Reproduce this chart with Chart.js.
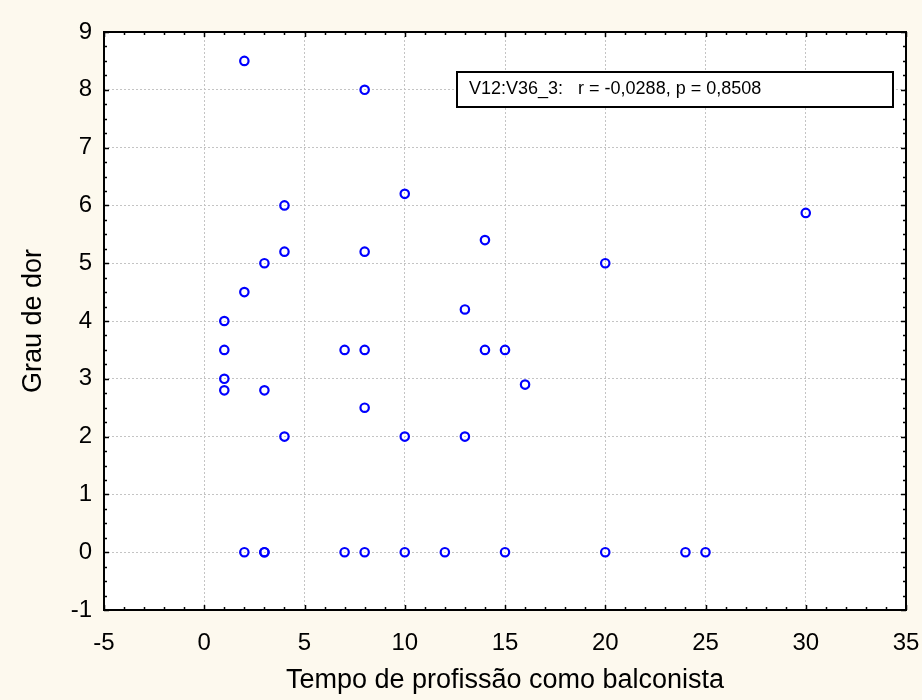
<!DOCTYPE html>
<html>
<head>
<meta charset="utf-8">
<script src="https://cdn.jsdelivr.net/npm/chart.js@4/dist/chart.umd.min.js"></script>
<style>
  html, body { margin: 0; padding: 0; background: #fdf9ee; }
  canvas { display: block; }
</style>
</head>
<body>
<canvas id="chart" width="922" height="700"></canvas>
<script>
// Years working as a shop clerk (x) vs. pain score (y)
const tempoProfissao = [2, 8, 10, 30, 4, 14, 4, 8, 3, 20, 2, 13, 1, 1, 7, 8, 14, 15, 1, 1, 3, 16, 8, 4, 10, 13,
                        2, 3, 3, 7, 8, 10, 12, 15, 20, 24, 25];
const grauDor = [8.5, 8, 6.2, 5.87, 6, 5.4, 5.2, 5.2, 5, 5, 4.5, 4.2, 4, 3.5, 3.5, 3.5, 3.5, 3.5, 3, 2.8, 2.8, 2.9, 2.5, 2, 2, 2,
                 0, 0, 0, 0, 0, 0, 0, 0, 0, 0, 0];

const xRange = [-5, 35];
const yRange = [-1, 9];
const xTitle = 'Tempo de profissão como balconista';
const yTitle = 'Grau de dor';
const statsText = 'V12:V36_3:   r = -0,0288, p = 0,8508';

const FONT = '"Liberation Sans", Arial, sans-serif';

const points = tempoProfissao.map((x, i) => ({ x: x, y: grauDor[i] }));

// Cream page, white plotting area
const backgroundPlugin = {
  id: 'backgrounds',
  beforeDraw(chart) {
    const { ctx, chartArea: a } = chart;
    ctx.save();
    ctx.fillStyle = '#fdf9ee';
    ctx.fillRect(0, 0, chart.width, chart.height);
    ctx.fillStyle = '#ffffff';
    ctx.fillRect(a.left, a.top, a.right - a.left, a.bottom - a.top);
    ctx.restore();
  }
};

// Closed frame with inward major/minor tick marks on all four sides
const framePlugin = {
  id: 'frame',
  afterDraw(chart) {
    const { ctx, chartArea: a } = chart;
    const xs = chart.scales.x, ys = chart.scales.y;
    ctx.save();
    ctx.strokeStyle = '#000';
    ctx.lineWidth = 1.5;
    ctx.beginPath();
    for (let i = 0; i <= (xRange[1] - xRange[0]); i++) {
      const v = xRange[0] + i;
      const len = (v % 5 === 0) ? 5 : 3;
      const px = Math.round(xs.getPixelForValue(v)) + 0.5;
      ctx.moveTo(px, a.bottom); ctx.lineTo(px, a.bottom - len);
      ctx.moveTo(px, a.top); ctx.lineTo(px, a.top + len);
    }
    const ySteps = (yRange[1] - yRange[0]) * 4;
    for (let i = 0; i <= ySteps; i++) {
      const v = yRange[0] + i / 4;
      const len = (i % 4 === 0) ? 5 : 3;
      const py = Math.round(ys.getPixelForValue(v)) + 0.5;
      ctx.moveTo(a.left, py); ctx.lineTo(a.left + len, py);
      ctx.moveTo(a.right, py); ctx.lineTo(a.right - len, py);
    }
    ctx.stroke();
    ctx.lineWidth = 2;
    ctx.strokeRect(a.left, a.top, a.right - a.left, a.bottom - a.top);
    ctx.restore();
  }
};

// Correlation summary box
const statsBoxPlugin = {
  id: 'statsBox',
  afterDraw(chart, args, opts) {
    const { ctx, chartArea: a } = chart;
    const left = a.left + 353, top = a.top + 40;
    const w = a.right - 13 - left, h = 35;
    ctx.save();
    ctx.fillStyle = '#ffffff';
    ctx.fillRect(left, top, w, h);
    ctx.strokeStyle = '#000';
    ctx.lineWidth = 2;
    ctx.strokeRect(left, top, w, h);
    ctx.fillStyle = '#000';
    ctx.font = '18px ' + FONT;
    ctx.textAlign = 'left';
    ctx.textBaseline = 'middle';
    ctx.fillText(opts.text, left + 12, top + h / 2);
    ctx.restore();
  }
};

new Chart(document.getElementById('chart'), {
  type: 'scatter',
  data: {
    datasets: [{
      data: points,
      pointStyle: 'circle',
      pointRadius: 4.2,
      pointHoverRadius: 4.2,
      borderWidth: 2.2,
      borderColor: '#0000ff',
      backgroundColor: 'rgba(255,255,255,0)'
    }]
  },
  options: {
    responsive: false,
    devicePixelRatio: 1,
    animation: false,
    layout: { padding: { top: 32, right: 16, bottom: 0, left: 0 } },
    plugins: {
      legend: { display: false },
      tooltip: { enabled: false },
      statsBox: { text: statsText }
    },
    scales: {
      x: {
        type: 'linear',
        min: xRange[0],
        max: xRange[1],
        ticks: {
          stepSize: 5,
          color: '#000',
          font: { family: FONT, size: 24 },
          padding: 19,
          maxRotation: 0,
          autoSkip: false
        },
        grid: { color: '#c4c4c4', lineWidth: 1, drawTicks: false, tickLength: 0 },
        border: { display: false, dash: [2, 2] },
        title: {
          display: true,
          text: xTitle,
          color: '#000',
          font: { family: FONT, size: 27 },
          padding: { top: 0, bottom: 3 }
        },
        afterFit(scale) {
          scale.height = 90;
          scale.paddingLeft = 0;
          scale.paddingRight = 0;
        }
      },
      y: {
        type: 'linear',
        min: yRange[0],
        max: yRange[1],
        ticks: {
          stepSize: 1,
          color: '#000',
          font: { family: FONT, size: 24 },
          padding: 12
        },
        grid: { color: '#c4c4c4', lineWidth: 1, drawTicks: false, tickLength: 0 },
        border: { display: false, dash: [2, 2] },
        title: {
          display: true,
          text: yTitle,
          color: '#000',
          font: { family: FONT, size: 27 },
          padding: { top: 17, bottom: 0 }
        },
        afterFit(scale) {
          scale.width = 104;
          scale.paddingTop = 0;
          scale.paddingBottom = 0;
        }
      }
    }
  },
  plugins: [backgroundPlugin, framePlugin, statsBoxPlugin]
});
</script>
</body>
</html>
